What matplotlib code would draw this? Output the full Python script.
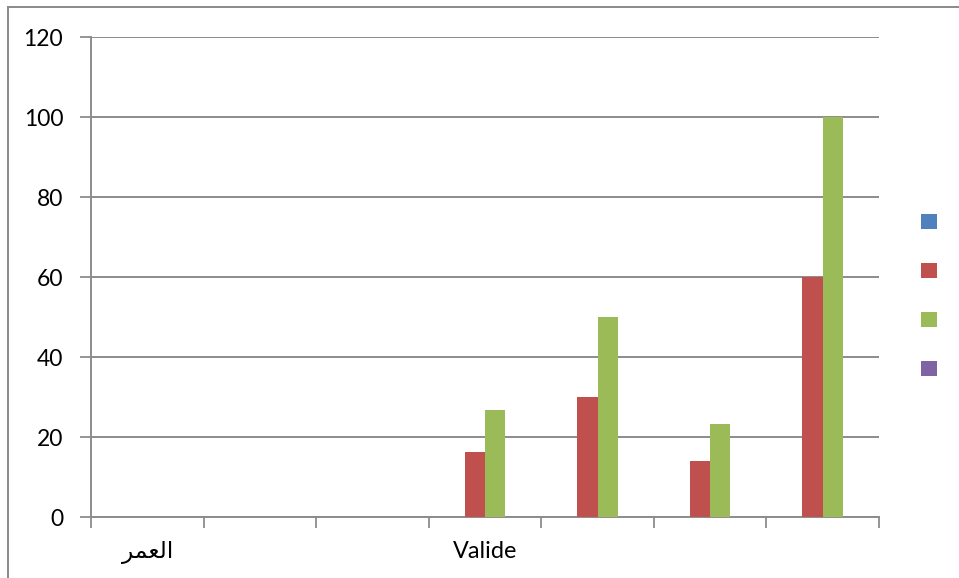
import numpy as np
import matplotlib
matplotlib.use("Agg")
import matplotlib.pyplot as plt
from matplotlib.lines import Line2D

# ---- data -------------------------------------------------------------
categories = ["العمر", "", "", "Valide", "", "", ""]
series_names = ["", "", "", ""]
series_blue = [0, 0, 0, 0, 0, 0, 0]
series_red = [0, 0, 0, 16.3, 30, 14, 60]
series_green = [0, 0, 0, 26.7, 50, 23.3, 100]
series_purple = [0, 0, 0, 0, 0, 0, 0]
y_ticks = [0, 20, 40, 60, 80, 100, 120]

colors = ["#4F81BD", "#C0504D", "#9BBB59", "#8064A2"]
grid_col = "#8c8c8c"

# Arabic presentation forms so the label is joined and drawn right-to-left
_forms = {  # letter: (isolated, final, initial, medial)
    "ا": ("\uFE8D", "\uFE8E", None, None),
    "ل": ("\uFEDD", "\uFEDE", "\uFEDF", "\uFEE0"),
    "ع": ("\uFEC9", "\uFECA", "\uFECB", "\uFECC"),
    "م": ("\uFEE1", "\uFEE2", "\uFEE3", "\uFEE4"),
    "ر": ("\uFEAD", "\uFEAE", None, None),
}


def shape_arabic(word):
    if not any(ch in _forms for ch in word):
        return word
    out = []
    n = len(word)
    for i, ch in enumerate(word):
        iso, fin, ini, med = _forms[ch]
        prev_joins = i > 0 and _forms[word[i - 1]][2] is not None
        next_exists = i < n - 1
        can_join_next = ini is not None and next_exists
        if prev_joins and can_join_next:
            out.append(med)
        elif prev_joins:
            out.append(fin)
        elif can_join_next:
            out.append(ini)
        else:
            out.append(iso)
    return "".join(reversed(out))


plt.rcParams["font.family"] = ["Lato", "DejaVu Sans"]

fig = plt.figure(figsize=(9.59, 5.78), dpi=100)
ax = fig.add_axes([91 / 959, 61 / 578, 788 / 959, 480 / 578])

x = np.arange(1, len(categories) + 1)
w = 0.18
all_series = [series_blue, series_red, series_green, series_purple]
handles = []
for k, vals in enumerate(all_series):
    b = ax.bar(x + (k - 1.5) * w, vals, width=w, color=colors[k],
               linewidth=0, zorder=3, label=series_names[k])
    handles.append(b)

ax.set_xlim(0.5, len(categories) + 0.5)
ax.set_ylim(0, 120)
ax.set_yticks(y_ticks)
ax.set_yticklabels([str(v) for v in y_ticks])

# category boundaries carry the tick marks, centres carry the labels
ax.set_xticks(np.arange(0.5, len(categories) + 1.0, 1.0))
ax.set_xticklabels([])
ax.set_xticks(x, minor=True)
ax.set_xticklabels([shape_arabic(c) for c in categories], minor=True)
ax.tick_params(axis="x", which="major", length=8, width=1.3, color=grid_col,
               direction="out")
ax.tick_params(axis="x", which="minor", length=0, pad=17, labelsize=16.8)
ax.tick_params(axis="y", length=8, width=1.3, color=grid_col, pad=12,
               labelsize=16.5)

ax.yaxis.grid(True, color=grid_col, linewidth=1.4, zorder=0)
ax.set_axisbelow(True)
for s in ["top", "right"]:
    ax.spines[s].set_visible(False)
for s in ["left", "bottom"]:
    ax.spines[s].set_color(grid_col)
    ax.spines[s].set_linewidth(1.4)

leg = ax.legend(handles=handles, labels=series_names, loc="center",
                bbox_to_anchor=(929 / 959, 1 - 295 / 578),
                bbox_transform=fig.transFigure, frameon=False,
                fontsize=8, handlelength=1.36, handleheight=1.7,
                handletextpad=0, labelspacing=3.05, borderpad=0)

# chart area frame (top and left edges)
fig.add_artist(Line2D([8 / 959, 1], [1 - 7 / 578, 1 - 7 / 578],
                      transform=fig.transFigure, color="#8a8a8a", lw=1.4))
fig.add_artist(Line2D([8 / 959, 8 / 959], [0, 1 - 7 / 578],
                      transform=fig.transFigure, color="#8a8a8a", lw=1.4))

fig.savefig("out.png", dpi=100)
